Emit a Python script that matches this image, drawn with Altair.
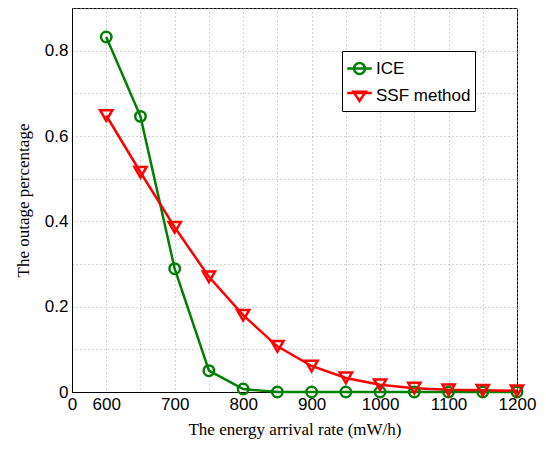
import altair as alt
import pandas as pd

rates = [600, 650, 700, 750, 800, 850, 900, 950, 1000, 1050, 1100, 1150, 1200]
ice = [0.832, 0.646, 0.289, 0.050, 0.007, 0.0, 0.0, 0.0, 0.0, 0.0, 0.0, 0.0, 0.0]
ssf = [0.648, 0.515, 0.386, 0.270, 0.180, 0.107, 0.061, 0.033, 0.017, 0.009, 0.005, 0.004, 0.003]
series_names = ["ICE", "SSF method"]
series_colors = ["#008000", "#ff0000"]
x_ticks = [550, 600, 650, 700, 750, 800, 850, 900, 950, 1000, 1050, 1100, 1150, 1200]
y_ticks = [0, 0.1, 0.2, 0.3, 0.4, 0.5, 0.6, 0.7, 0.8, 0.9]

rows = []
for r, a, b in zip(rates, ice, ssf):
    rows.append({"rate": r, "value": a, "series": series_names[0]})
    rows.append({"rate": r, "value": b, "series": series_names[1]})
df = pd.DataFrame(rows)

sans = "Liberation Sans"
serif = "Liberation Serif"

x_enc = alt.X(
    "rate:Q",
    scale=alt.Scale(domain=[550, 1200], nice=False, zero=False),
    axis=alt.Axis(
        values=x_ticks,
        format="d",
        labelFlush=False,
        labelExpr="datum.value == 550 ? '0' : (datum.value % 100 == 0 ? datum.label : '')",
        title="The energy arrival rate (mW/h)",
    ),
)
y_enc = alt.Y(
    "value:Q",
    scale=alt.Scale(domain=[0, 0.9], nice=False),
    axis=alt.Axis(
        values=y_ticks,
        format=".1~f",
        labelFlush=False,
        labelExpr="round(datum.value * 10) % 2 == 0 && datum.value < 0.85 ? datum.label : ''",
        title="The outage percentage",
    ),
)
color_scale = alt.Scale(domain=series_names, range=series_colors)

lines = alt.Chart(df).mark_line(strokeWidth=2.5).encode(
    x=x_enc, y=y_enc,
    color=alt.Color("series:N", scale=color_scale, legend=None),
)
points = alt.Chart(df).mark_point(filled=False, strokeWidth=2.5, opacity=1).encode(
    x=x_enc, y=y_enc,
    color=alt.Color("series:N", scale=color_scale, legend=None),
    shape=alt.Shape("series:N", scale=alt.Scale(domain=series_names, range=["circle", "triangle-down"]), legend=None),
    size=alt.Size("series:N", scale=alt.Scale(domain=series_names, range=[110, 150]), legend=None),
)

legend_paths = [
    "M-1,0H1M-0.45,0A0.45,0.45 0 1,1 0.45,0A0.45,0.45 0 1,1 -0.45,0",
    "M-1,-0.2H1M-0.5,-0.3L0.5,-0.3L0,0.45Z",
]
legend_layer = alt.Chart(df).transform_filter("false").mark_point(filled=False, strokeWidth=2.5, opacity=1).encode(
    x=x_enc, y=y_enc,
    stroke=alt.Stroke("series:N", scale=alt.Scale(domain=series_names, range=series_colors), title=None),
    shape=alt.Shape("series:N", scale=alt.Scale(domain=series_names, range=legend_paths), title=None),
)

chart = (
    alt.layer(lines, points, legend_layer)
    .resolve_scale(shape="independent", stroke="independent")
    .resolve_legend(shape="independent", stroke="independent")
    .properties(
        width=445,
        height=384,
        autosize=alt.AutoSizeParams(type="none"),
        padding={"left": 64, "top": 0, "right": 21, "bottom": 49},
    )
    .configure_view(stroke="black", strokeWidth=1)
    .configure_axis(
        labelFont=sans, labelFontSize=17, labelColor="black",
        titleFont=serif, titleFontSize=17, titleFontWeight="normal", titleColor="black",
        domainColor="black", domainWidth=1,
        grid=True, gridColor="#a8a8a8", gridDash=[1, 3], gridWidth=1,
        ticks=False, labelPadding=4,
    )
    .configure_axisX(titlePadding=9)
    .configure_axisY(titlePadding=12)
    .configure_legend(
        orient="none", legendX=270, legendY=43,
        fillColor="white", strokeColor="black", padding=4, cornerRadius=0,
        labelFont=sans, labelFontSize=17, labelColor="black",
        symbolSize=600, symbolStrokeWidth=2.5, symbolFillColor="transparent",
        rowPadding=2, labelOffset=3,
    )
)

chart.save("out.html", embed_options={"renderer": "svg", "actions": False})
